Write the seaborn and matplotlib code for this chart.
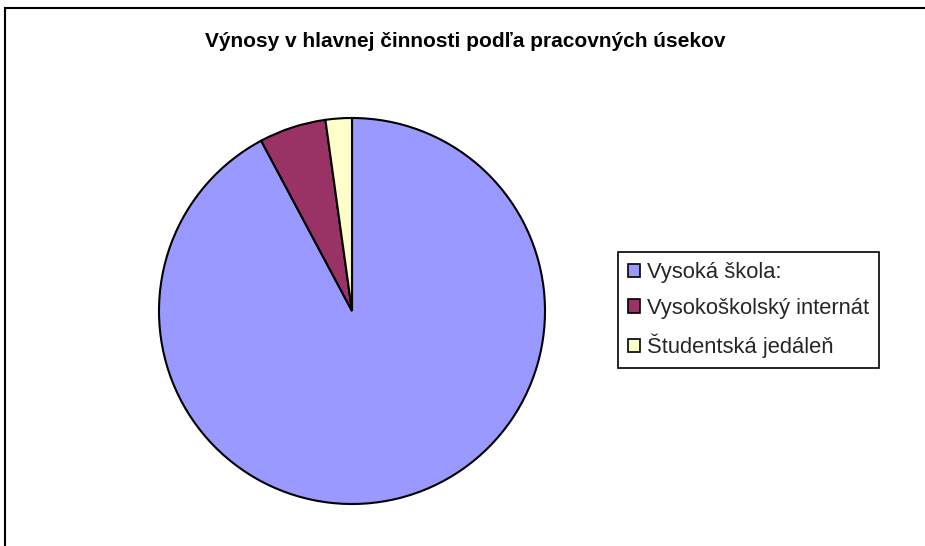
import matplotlib
matplotlib.use("Agg")
import matplotlib.pyplot as plt
import matplotlib.patches as mpatches
import seaborn as sns

sns.set_theme(style="white")
plt.rcParams['font.family'] = ['Liberation Sans', 'DejaVu Sans']

# data
sections = ['Vysoká škola:', 'Vysokoškolský internát', 'Študentská jedáleň']
shares = [92.2, 5.6, 2.2]
colors = ['#9999FF', '#993366', '#FFFFCC']
title = 'Výnosy v hlavnej činnosti podľa pracovných úsekov'

W, H = 925, 546
fig = plt.figure(figsize=(W / 100, H / 100), dpi=100)

# pie centred at (352, 311) px, radius 193 px
cx, cy, r = 352, 311, 193
ax = fig.add_axes([(cx - r) / W, (H - cy - r) / H, 2 * r / W, 2 * r / H])
wedges, _ = ax.pie(shares, colors=colors, startangle=90, counterclock=False,
                   wedgeprops=dict(edgecolor='black', linewidth=1.5))
ax.set_xlim(-1, 1)
ax.set_ylim(-1, 1)
ax.axis('off')

# outer chart frame (only top and left edges are visible)
frame = mpatches.Rectangle((5 / W, -0.2), 1.5, 1 - 8 / H + 0.2, transform=fig.transFigure,
                           fill=False, edgecolor='black', linewidth=1.5)
fig.add_artist(frame)

fig.text(465 / W, 1 - 46.7 / H, title, ha='center', va='baseline',
         fontsize=15, fontweight='bold', color='black')

handles = [mpatches.Patch(facecolor=c, edgecolor='black', linewidth=1.2) for c in colors]
leg = fig.legend(handles, sections, loc='upper left', bbox_to_anchor=(618 / W, 1 - 252 / H),
                 bbox_transform=fig.transFigure, borderaxespad=0, fontsize=15.8,
                 frameon=True, fancybox=False, edgecolor='black', framealpha=1,
                 handlelength=0.55, handleheight=0.55, handletextpad=0.3,
                 labelspacing=0.68, borderpad=0.45)
leg.get_frame().set_linewidth(1.2)

fig.savefig('out.png', dpi=100, facecolor='white')
